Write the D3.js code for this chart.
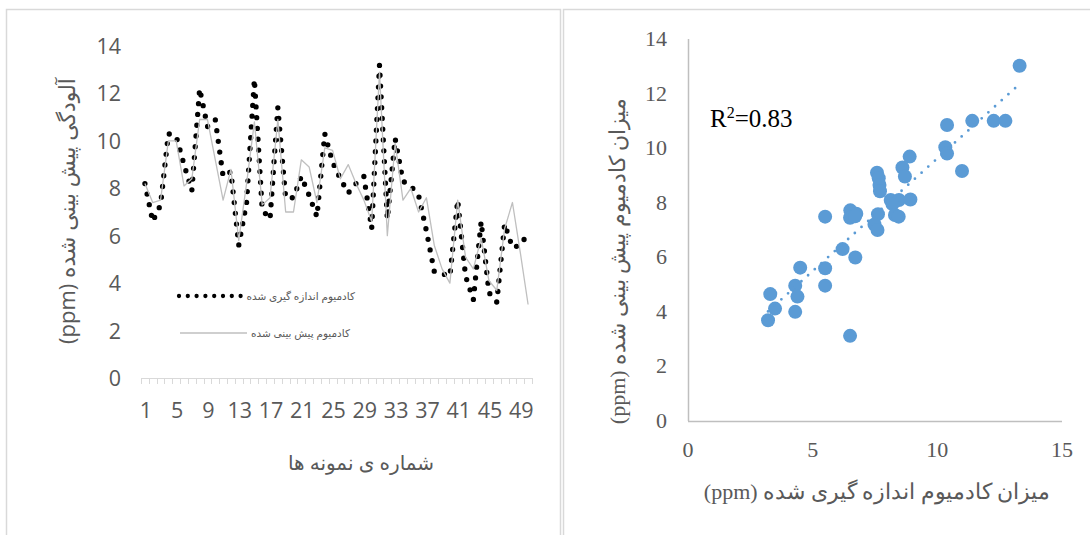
<!DOCTYPE html>
<html lang="fa">
<head>
  <meta charset="UTF-8">
  <title>Cadmium charts</title>
  <script src="https://d3js.org/d3.v7.min.js"></script>
  <style>
    body { margin: 0; background: #fff; }
    svg { display: block; }
  </style>
</head>
<body>
<div id="chart"></div>
<script>
  // sample numbers (category axis of the left chart)
  const samples = [1,2,3,4,5,6,7,8,9,10,11,12,13,14,15,16,17,18,19,20,21,22,23,24,25,
                   26,27,28,29,30,31,32,33,34,35,36,37,38,39,40,41,42,43,44,45,46,47,48,49,50];
  const sampleTicks = [1,5,9,13,17,21,25,29,33,37,41,45,49];

  // measured cadmium (ppm)
  const measured = [8.2,6.6,7.3,10.3,10.2,9.0,7.9,12.2,10.6,10.9,
                    8.5,8.7,5.6,7.4,12.6,7.1,6.7,11.4,7.6,7.6,
                    8.5,7.7,6.8,10.3,9.1,8.4,7.8,8.2,8.5,6.3,
                    13.2,6.7,10.1,8.3,8.1,7.7,6.2,4.5,4.4,4.3,
                    7.5,4.3,3.3,6.6,3.6,3.2,6.5,5.5,5.6,6.1];
  // predicted cadmium (ppm)
  const predicted = [8.2,7.4,7.5,10.0,10.0,8.1,8.4,10.9,10.9,9.2,
                     7.5,8.8,5.8,8.2,10.8,7.3,7.6,10.9,7.0,7.0,
                     9.2,8.9,7.4,9.7,9.6,8.4,9.0,8.2,7.5,6.6,
                     12.9,6.0,9.9,7.5,8.0,7.0,7.6,5.6,4.6,4.0,
                     7.5,5.1,4.6,5.9,4.1,3.7,6.3,7.4,5.3,3.1];
  const leftYTicks = [0,2,4,6,8,10,12,14];

  // scatter: measured (x) vs predicted (y)
  const scatterX = [13.3,10.39,11.4,12.26,12.73,10.32,10.39,10.99,8.89,8.6,8.7,
                    7.58,7.65,7.68,7.7,8.13,8.46,8.92,8.2,8.3,8.45,7.62,7.48,7.6,
                    6.51,6.75,6.5,6.7,5.5,6.2,6.71,4.5,5.5,5.5,4.3,4.39,3.3,3.49,4.3,3.21,6.5];
  const scatterY = [13.02,10.85,11.0,11.0,11.0,10.03,9.8,9.16,9.69,9.29,8.96,
                    9.1,8.9,8.65,8.42,8.1,8.1,8.12,7.95,7.55,7.49,7.58,7.2,7.0,
                    7.72,7.6,7.45,7.5,7.49,6.3,5.99,5.62,5.6,4.96,4.96,4.56,4.65,4.12,4.0,3.69,3.12];
  const rightXTicks = [0,5,10,15];
  const rightYTicks = [0,2,4,6,8,10,12,14];

  const svg = d3.select("#chart").append("svg")
    .attr("width", 1090).attr("height", 535);

  // panel frames
  svg.append("rect").attr("x", 6.5).attr("y", 9.5).attr("width", 554).attr("height", 540)
    .attr("fill", "none").attr("stroke", "#d9d9d9").attr("stroke-width", 1.5);
  svg.append("rect").attr("x", 563.5).attr("y", 9.5).attr("width", 540).attr("height", 540)
    .attr("fill", "none").attr("stroke", "#d9d9d9").attr("stroke-width", 1.5);

  // ---------- left: line chart ----------
  const sansFont = "'Open Sans', 'DejaVu Sans', sans-serif";
  const xL = d3.scaleBand().domain(samples).range([141, 532]);
  const yL = d3.scaleLinear().domain([0, 14]).range([378, 46]);
  const cx = d => xL(d) + xL.bandwidth() / 2;

  const left = svg.append("g");

  // x axis line + ticks between categories
  left.append("line").attr("x1", 141).attr("x2", 532).attr("y1", 378.5).attr("y2", 378.5)
    .attr("stroke", "#d9d9d9");
  left.selectAll(".tk").data(samples.concat([null])).join("line")
    .attr("x1", (d, i) => Math.round(141 + i * xL.bandwidth()) + 0.5)
    .attr("x2", (d, i) => Math.round(141 + i * xL.bandwidth()) + 0.5)
    .attr("y1", 378).attr("y2", 384)
    .attr("stroke", "#d9d9d9");

  left.selectAll(".xl").data(sampleTicks).join("text")
    .attr("x", d => cx(d) + 1).attr("y", 418)
    .attr("text-anchor", "middle")
    .attr("font-family", sansFont).attr("font-size", 21.5).attr("fill", "#595959")
    .text(d => d);

  left.selectAll(".yl").data(leftYTicks).join("text")
    .attr("x", 121).attr("y", d => yL(d) + 8)
    .attr("text-anchor", "end")
    .attr("font-family", sansFont).attr("font-size", 21.5).attr("fill", "#595959")
    .text(d => d);

  const line = d3.line().x((d, i) => cx(samples[i])).y(d => yL(d));

  left.append("path").datum(measured)
    .attr("d", line).attr("fill", "none")
    .attr("stroke", "#000").attr("stroke-width", 5.3)
    .attr("stroke-linecap", "round").attr("stroke-linejoin", "round")
    .attr("stroke-dasharray", "0 10.8");

  left.append("path").datum(predicted)
    .attr("d", line).attr("fill", "none")
    .attr("stroke", "#bfbfbf").attr("stroke-width", 1.3)
    .attr("stroke-linejoin", "round");

  // legend
  left.append("line").attr("x1", 179).attr("x2", 241).attr("y1", 296).attr("y2", 296)
    .attr("stroke", "#000").attr("stroke-width", 4.3)
    .attr("stroke-linecap", "round").attr("stroke-dasharray", "0 8.8");
  left.append("text").attr("x", 355).attr("y", 300)
    .attr("text-anchor", "end").attr("font-family", sansFont)
    .attr("font-size", 10.5).attr("fill", "#595959")
    .text("کادمیوم اندازه گیری شده");
  left.append("line").attr("x1", 180).attr("x2", 247).attr("y1", 333).attr("y2", 333)
    .attr("stroke", "#bfbfbf").attr("stroke-width", 1.3);
  left.append("text").attr("x", 350).attr("y", 337)
    .attr("text-anchor", "end").attr("font-family", sansFont)
    .attr("font-size", 10.5).attr("fill", "#595959")
    .text("کادمیوم پیش بینی شده");

  // axis titles
  left.append("text")
    .attr("transform", "translate(75,211) rotate(-90)")
    .attr("text-anchor", "middle").attr("direction", "rtl")
    .attr("font-family", sansFont).attr("font-size", 22).attr("fill", "#595959")
    .text("آلودگی پیش بینی شده (ppm)");
  left.append("text")
    .attr("x", 361).attr("y", 470)
    .attr("text-anchor", "middle")
    .attr("font-family", sansFont).attr("font-size", 20).attr("fill", "#595959")
    .text("شماره ی نمونه ها");

  // ---------- right: scatter ----------
  const serifFont = "'Liberation Serif', 'Times New Roman', serif";
  const xR = d3.scaleLinear().domain([0, 15]).range([688, 1062]);
  const yR = d3.scaleLinear().domain([0, 14]).range([421, 39]);
  const right = svg.append("g");

  right.append("line").attr("x1", 688.5).attr("x2", 688.5).attr("y1", 39).attr("y2", 421)
    .attr("stroke", "#bfbfbf").attr("stroke-width", 1.5);
  right.append("line").attr("x1", 688).attr("x2", 1062).attr("y1", 421.5).attr("y2", 421.5)
    .attr("stroke", "#bfbfbf").attr("stroke-width", 1.5);

  right.selectAll(".yr").data(rightYTicks).join("text")
    .attr("x", 667).attr("y", d => yR(d) + 7)
    .attr("text-anchor", "end")
    .attr("font-family", serifFont).attr("font-size", 22).attr("fill", "#595959")
    .text(d => d);
  right.selectAll(".xr").data(rightXTicks).join("text")
    .attr("x", d => xR(d)).attr("y", 457)
    .attr("text-anchor", "middle")
    .attr("font-family", serifFont).attr("font-size", 22).attr("fill", "#595959")
    .text(d => d);

  // least-squares trendline
  const mx = d3.mean(scatterX), my = d3.mean(scatterY);
  const slope = d3.sum(scatterX, (x, i) => (x - mx) * (scatterY[i] - my)) /
                d3.sum(scatterX, x => (x - mx) * (x - mx));
  const icpt = my - slope * mx;
  const [minX, maxX] = d3.extent(scatterX);

  right.selectAll(".pt").data(scatterX).join("circle")
    .attr("cx", d => xR(d)).attr("cy", (d, i) => yR(scatterY[i]))
    .attr("r", 7).attr("fill", "#5b9bd5");

  right.append("line")
    .attr("x1", xR(minX)).attr("y1", yR(icpt + slope * minX))
    .attr("x2", xR(maxX)).attr("y2", yR(icpt + slope * maxX))
    .attr("stroke", "#5b9bd5").attr("stroke-width", 2.8)
    .attr("stroke-linecap", "round").attr("stroke-dasharray", "0 9");

  const r2 = right.append("text").attr("x", 710).attr("y", 127)
    .attr("font-family", serifFont).attr("font-size", 25).attr("fill", "#000");
  r2.append("tspan").text("R");
  r2.append("tspan").attr("font-size", 16).attr("dy", -9).text("2");
  r2.append("tspan").attr("dy", 9).text("=0.83");

  right.append("text")
    .attr("transform", "translate(625,261) rotate(-90)")
    .attr("text-anchor", "middle").attr("direction", "rtl")
    .attr("font-family", serifFont).attr("font-size", 22).attr("fill", "#595959")
    .text("میزان کادمیوم پیش بینی شده  (ppm)");
  right.append("text")
    .attr("x", 877).attr("y", 499)
    .attr("text-anchor", "middle").attr("direction", "rtl")
    .attr("font-family", serifFont).attr("font-size", 22).attr("fill", "#595959")
    .text("میزان کادمیوم اندازه گیری شده  (ppm)");
</script>
</body>
</html>
